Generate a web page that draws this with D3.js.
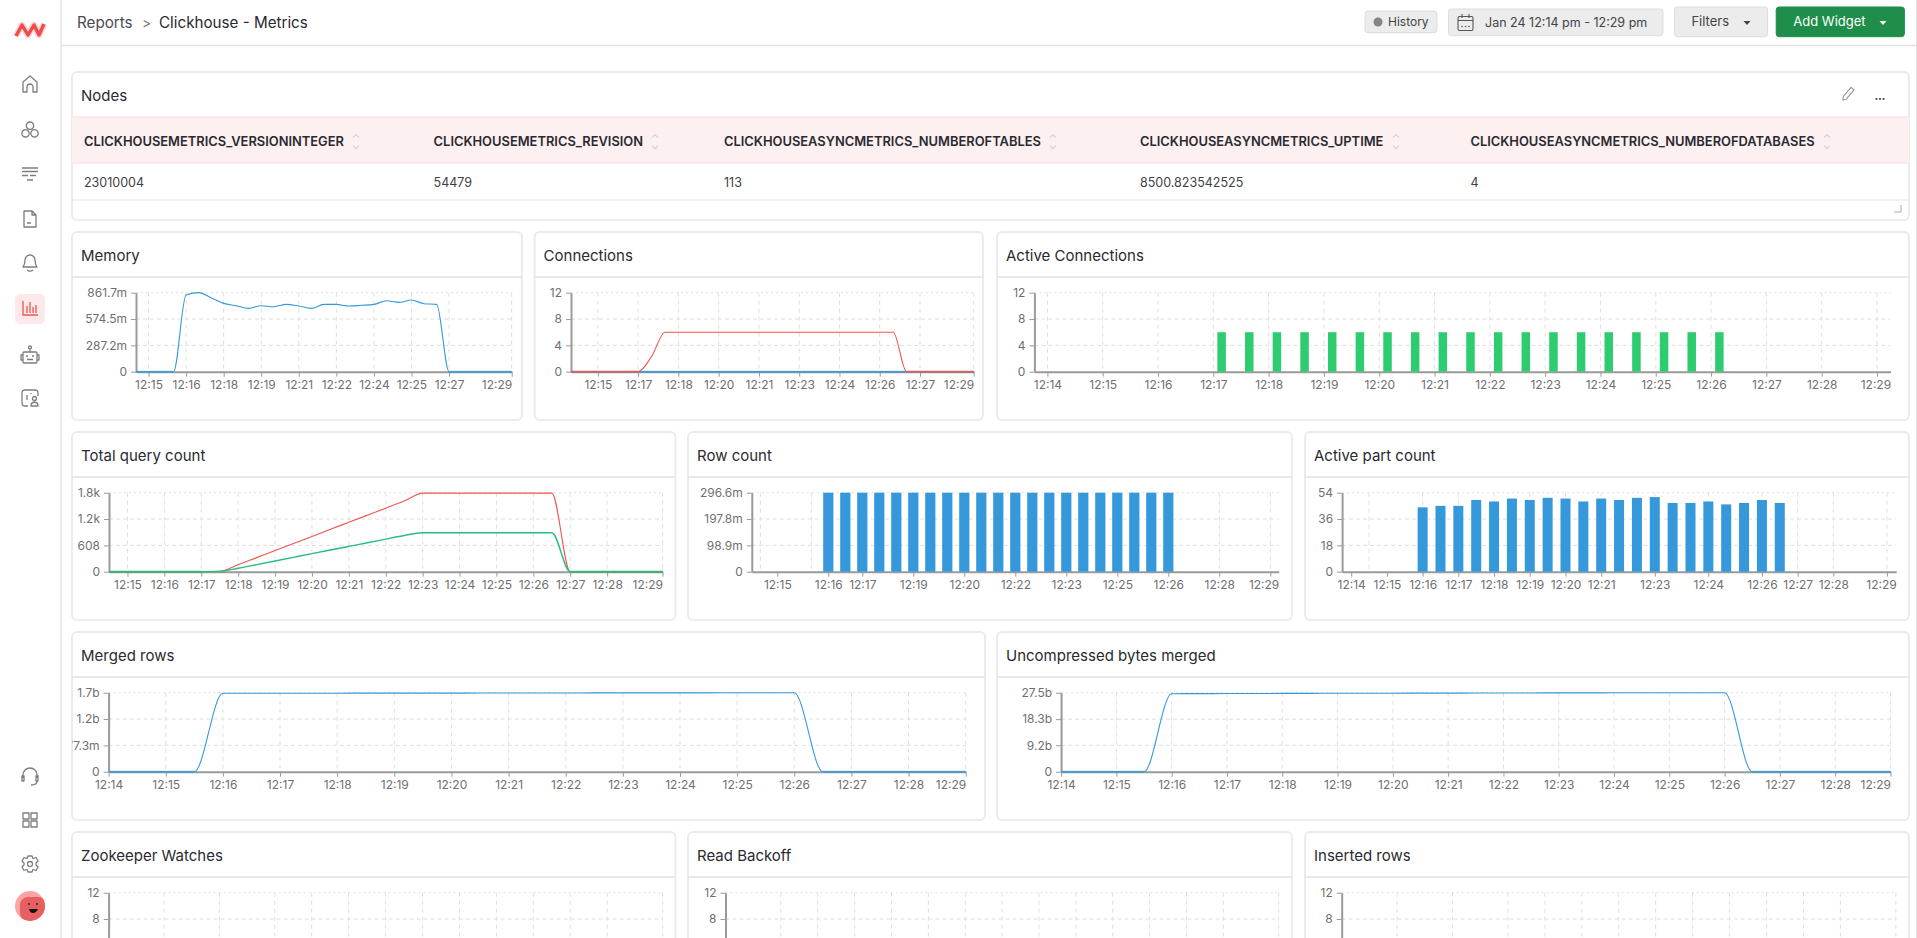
<!DOCTYPE html>
<html>
<head>
<meta charset="utf-8">
<title>Clickhouse - Metrics</title>
<script src="https://cdnjs.cloudflare.com/ajax/libs/d3/7.8.5/d3.min.js"></script>
<style>
  html, body { margin: 0; padding: 0; background: #fff; overflow: hidden; }
  text { font-family: Inter, "Noto Sans", sans-serif; }
</style>
</head>
<body>
<div id="page"></div>
<script>
// Table
const nodeColumns = ["CLICKHOUSEMETRICS_VERSIONINTEGER", "CLICKHOUSEMETRICS_REVISION", "CLICKHOUSEASYNCMETRICS_NUMBEROFTABLES", "CLICKHOUSEASYNCMETRICS_UPTIME", "CLICKHOUSEASYNCMETRICS_NUMBEROFDATABASES"];
const nodeRow = ["23010004", "54479", "113", "8500.823542525", "4"];

// Sample times, minutes past 12:00
const timesFrom14 = [14, 14.5, 15, 15.5, 16, 16.5, 17, 17.5, 18, 18.5, 19, 19.5, 20, 20.5, 21, 21.5, 22, 22.5, 23, 23.5, 24, 24.5, 25, 25.5, 26, 26.5, 27, 27.5, 28, 28.5, 29];
const timesFrom145 = [14.5, 15, 15.5, 16, 16.5, 17, 17.5, 18, 18.5, 19, 19.5, 20, 20.5, 21, 21.5, 22, 22.5, 23, 23.5, 24, 24.5, 25, 25.5, 26, 26.5, 27, 27.5, 28, 28.5, 29, 29.5];
const barTimes = [16, 16.5, 17, 17.5, 18, 18.5, 19, 19.5, 20, 20.5, 21, 21.5, 22, 22.5, 23, 23.5, 24, 24.5, 25, 25.5, 26];
const activeConnTimes = [17.15, 17.65, 18.15, 18.65, 19.15, 19.65, 20.15, 20.65, 21.15, 21.65, 22.15, 22.65, 23.15, 23.65, 24.15, 24.65, 25.15, 25.65, 26.15];

// Series values
const memoryValues = [0, 0, 0, 0, 836, 862, 807, 745, 720, 691, 720, 709, 734, 716, 691, 734, 734, 716, 724, 734, 774, 756, 782, 742, 734, 0, 0, 0, 0, 0, 0];
const connectionsRed = [0, 0, 0, 0, 0, 0, 2.3, 6, 6, 6, 6, 6, 6, 6, 6, 6, 6, 6, 6, 6, 6, 6, 6, 6, 6, 0, 0, 0, 0, 0, 0];
const connectionsBlue = [0, 0, 0, 0, 0, 0, 0, 0, 0, 0, 0, 0, 0, 0, 0, 0, 0, 0, 0, 0, 0, 0, 0, 0, 0, 0, 0, 0, 0, 0, 0];
const activeConnValues = [6, 6, 6, 6, 6, 6, 6, 6, 6, 6, 6, 6, 6, 6, 6, 6, 6, 6, 6];
const queryRed = [0, 0, 0, 0, 0, 0, 10, 162, 325, 488, 651, 814, 978, 1141, 1304, 1467, 1630, 1815, 1815, 1815, 1815, 1815, 1815, 1815, 1815, 0, 0, 0, 0, 0, 0];
const queryGreen = [0, 0, 0, 0, 0, 0, 8, 80, 164, 248, 332, 416, 500, 584, 668, 752, 836, 900, 900, 900, 900, 900, 900, 900, 900, 0, 0, 0, 0, 0, 0];
const rowCountValues = [296.6, 296.6, 296.6, 296.6, 296.6, 296.6, 296.6, 296.6, 296.6, 296.6, 296.6, 296.6, 296.6, 296.6, 296.6, 296.6, 296.6, 296.6, 296.6, 296.6, 296.6];
const activePartValues = [44, 45, 45, 49, 48, 50, 49, 50.5, 50, 48, 50, 49, 50.5, 51, 47, 47, 48, 46, 47, 49, 47];
const mergedValues = [0, 0, 0, 0, 1719, 1720, 1720, 1721, 1721, 1722, 1722, 1723, 1723, 1724, 1725, 1725, 1726, 1727, 1727, 1728, 1729, 1729, 1730, 1730, 1731, 0, 0, 0, 0, 0, 0];
const uncompressedValues = [0, 0, 0, 0, 27.15, 27.17, 27.2, 27.22, 27.25, 27.27, 27.3, 27.31, 27.33, 27.35, 27.36, 27.38, 27.4, 27.42, 27.43, 27.44, 27.46, 27.47, 27.48, 27.49, 27.5, 0, 0, 0, 0, 0, 0];

// Axis ticks
const memoryYTicks = [0, 287.2, 574.5, 861.7];
const memoryYLabels = ["0", "287.2m", "574.5m", "861.7m"];
const countYTicks = [0, 4, 8, 12];
const countYLabels = ["0", "4", "8", "12"];
const visibleCountYTicks = [8, 12];
const visibleCountYLabels = ["8", "12"];
const queryYTicks = [0, 608, 1216, 1824];
const queryYLabels = ["0", "608", "1.2k", "1.8k"];
const rowYTicks = [0, 98.9, 197.8, 296.6];
const rowYLabels = ["0", "98.9m", "197.8m", "296.6m"];
const partYTicks = [0, 18, 36, 54];
const partYLabels = ["0", "18", "36", "54"];
const mergedYTicks = [0, 577.3, 1154.6, 1731.9];
const mergedYLabels = ["0", "577.3m", "1.2b", "1.7b"];
const bytesYTicks = [0, 9.2, 18.3, 27.5];
const bytesYLabels = ["0", "9.2b", "18.3b", "27.5b"];

const memoryXTicks = [15, 16.5, 18, 19.5, 21, 22.5, 24, 25.5, 27, 29.5];
const memoryXLabels = ["12:15", "12:16", "12:18", "12:19", "12:21", "12:22", "12:24", "12:25", "12:27", "12:29"];
const connXTicks = [15, 16.5, 18, 19.5, 21, 22.5, 24, 25.5, 27, 29];
const connXLabels = ["12:15", "12:17", "12:18", "12:20", "12:21", "12:23", "12:24", "12:26", "12:27", "12:29"];
const everyMinute = [14, 15, 16, 17, 18, 19, 20, 21, 22, 23, 24, 25, 26, 27, 28, 29];
const everyMinuteLabels = ["12:14", "12:15", "12:16", "12:17", "12:18", "12:19", "12:20", "12:21", "12:22", "12:23", "12:24", "12:25", "12:26", "12:27", "12:28", "12:29"];
const queryXTicks = [15, 16, 17, 18, 19, 20, 21, 22, 23, 24, 25, 26, 27, 28, 29.5];
const queryXLabels = ["12:15", "12:16", "12:17", "12:18", "12:19", "12:20", "12:21", "12:22", "12:23", "12:24", "12:25", "12:26", "12:27", "12:28", "12:29"];
const rowXTicks = [14.5, 16, 17, 18.5, 20, 21.5, 23, 24.5, 26, 27.5, 29];
const rowXLabels = ["12:15", "12:16", "12:17", "12:19", "12:20", "12:22", "12:23", "12:25", "12:26", "12:28", "12:29"];
const rowXGrid = [14, 15.5, 17, 18.5, 20, 21.5, 23, 24.5, 26, 27.5, 29];
const partXTicks = [14, 15, 16, 17, 18, 19, 20, 21, 22.5, 24, 25.5, 26.5, 27.5, 29];
const partXLabels = ["12:14", "12:15", "12:16", "12:17", "12:18", "12:19", "12:20", "12:21", "12:23", "12:24", "12:26", "12:27", "12:28", "12:29"];
const partXGrid = [14.5, 16, 17, 18, 19, 20, 21, 22.5, 24, 25.5, 26.5, 27.5, 29];
const watchGrid = [15.5, 17, 18.5, 19.5, 20.5, 21.5, 22.5, 23.5, 24.5, 25.5, 26.5, 27.5, 29];
const backoffGrid = [15.5, 16.5, 17.5, 18.5, 19.5, 20.5, 21.5, 22.5, 23.5, 24.5, 25.5, 26.5, 27.5, 29];

const BLUE = "#3498db", RED = "#f0554c", GREEN = "#2ecc71", LINE_GREEN = "#27bd7e";
const AXIS = "#9a9a9a", GRID = "#dedede", INK = "#2a2a30", MUTED = "#6f6f6f", ICON = "#7d7d7d";

const svg = d3.select("#page").append("svg")
    .attr("width", 1917)
    .attr("height", 938)
    .style("display", "block");

function label(parent, x, y, str, size, weight, color, anchor) {
    return parent.append("text")
        .attr("x", x).attr("y", y)
        .attr("font-size", size)
        .attr("font-weight", weight || 400)
        .attr("fill", color || INK)
        .attr("text-anchor", anchor || "start")
        .text(str);
}

let cardId = 0;
function card(x0, x1, top, bottom, title) {
    const id = "card" + (cardId++);
    svg.append("clipPath").attr("id", id).append("rect")
        .attr("x", x0).attr("y", top).attr("width", x1 - x0).attr("height", bottom - top);
    svg.append("rect")
        .attr("x", x0).attr("y", top).attr("width", x1 - x0).attr("height", bottom - top)
        .attr("rx", 5).attr("fill", "#fff").attr("stroke", "#ebebeb").attr("stroke-width", 2);
    const g = svg.append("g").attr("clip-path", "url(#" + id + ")");
    label(g, x0 + 9, top + 29, title, 15, 400);
    return g;
}

// One widget: card + plot. left/right are the plot edges, from/to the visible minutes
function widget(o) {
    const top = o.top, plotTop = top + 60.7, plotBottom = top + 139.7;
    const g = card(o.x0, o.x1, top, top + 188, o.title);
    g.append("line")
        .attr("x1", o.x0).attr("x2", o.x1).attr("y1", top + 45).attr("y2", top + 45)
        .attr("stroke", "#e2e2e2").attr("stroke-width", 1.5);

    const yMax = d3.max(o.yTicks);
    const x = d3.scaleLinear().domain([o.from, o.to]).range([o.left, o.right]);
    const y = d3.scaleLinear().domain([0, yMax]).range([plotBottom, plotTop]);

    // grid
    g.selectAll(null).data(o.yTicks.filter(d => d > 0)).enter().append("line")
        .attr("x1", o.left).attr("x2", o.right)
        .attr("y1", d => y(d)).attr("y2", d => y(d))
        .attr("stroke", GRID)
        .attr("stroke-dasharray", d => d === yMax ? "2 3" : "4 3");
    g.selectAll(null).data(o.grid || o.xTicks).enter().append("line")
        .attr("x1", d => x(d)).attr("x2", d => x(d))
        .attr("y1", plotTop).attr("y2", plotBottom)
        .attr("stroke", GRID)
        .attr("stroke-dasharray", "4 4");

    // axes
    const xAxis = g.append("g")
        .attr("transform", "translate(0," + plotBottom + ")")
        .call(d3.axisBottom(x).tickValues(o.xLabels ? o.xTicks : []).tickSize(5).tickSizeOuter(0).tickPadding(4)
            .tickFormat((d, i) => o.xLabels[i]));
    const yAxis = g.append("g")
        .attr("transform", "translate(" + o.left + ",0)")
        .call(d3.axisLeft(y).tickValues(o.yTicks).tickSize(5).tickSizeOuter(0).tickPadding(4)
            .tickFormat((d, i) => o.yLabels[i]));
    [xAxis, yAxis].forEach(a => {
        a.select(".domain").attr("stroke", AXIS).attr("stroke-width", 2);
        a.selectAll(".tick line").attr("stroke", AXIS);
        a.selectAll(".tick text").attr("fill", MUTED).attr("font-size", 12)
            .attr("font-family", "Inter, 'Noto Sans', sans-serif");
    });
    // keep the last time label inside the plot
    xAxis.selectAll(".tick text").each(function (d) {
        const half = this.getComputedTextLength() / 2;
        if (x(d) + half > o.right) d3.select(this).attr("x", o.right - half - x(d));
    });

    // bars
    if (o.bars) {
        g.selectAll(null).data(o.bars.values).enter().append("rect")
            .attr("x", (d, i) => x(o.bars.times[i]) - o.bars.width / 2)
            .attr("y", d => y(d))
            .attr("width", o.bars.width)
            .attr("height", d => plotBottom - y(d))
            .attr("fill", o.bars.color);
    }

    // lines, zero stretches sit thick on the axis
    (o.lines || []).forEach(s => {
        const pts = s.values.map((v, i) => [s.times[i], v]);
        g.append("path").datum(pts)
            .attr("fill", "none").attr("stroke", s.color).attr("stroke-width", s.width || 1.1)
            .attr("d", d3.line().x(d => x(d[0])).y(d => y(d[1])).curve(d3.curveMonotoneX));
        g.append("path").datum(pts)
            .attr("fill", "none").attr("stroke", s.color).attr("stroke-width", 2).attr("stroke-opacity", 0.55)
            .attr("d", d3.line().defined(d => d[1] === 0).x(d => x(d[0])).y(d => y(d[1])));
    });
}

// ---- charts ----
widget({ title: "Memory", x0: 72, x1: 522, top: 232, left: 136, right: 511.7, from: 14.5, to: 29.5,
    yTicks: memoryYTicks, yLabels: memoryYLabels, xTicks: memoryXTicks, xLabels: memoryXLabels,
    lines: [{ times: timesFrom145, values: memoryValues, color: BLUE }] });
widget({ title: "Connections", x0: 534.6, x1: 983, top: 232, left: 571, right: 973.7, from: 14, to: 29,
    yTicks: countYTicks, yLabels: countYLabels, xTicks: connXTicks, xLabels: connXLabels,
    lines: [{ times: timesFrom14, values: connectionsBlue, color: BLUE },
            { times: timesFrom14, values: connectionsRed, color: RED }] });
widget({ title: "Active Connections", x0: 997, x1: 1909, top: 232, left: 1034.4, right: 1890.6, from: 13.765, to: 29.246,
    yTicks: countYTicks, yLabels: countYLabels, xTicks: everyMinute, xLabels: everyMinuteLabels,
    bars: { times: activeConnTimes, values: activeConnValues, width: 8.5, color: GREEN } });

widget({ title: "Total query count", x0: 72, x1: 675.5, top: 432, left: 109, right: 662.5, from: 14.5, to: 29.5,
    yTicks: queryYTicks, yLabels: queryYLabels, xTicks: queryXTicks, xLabels: queryXLabels,
    lines: [{ times: timesFrom145, values: queryRed, color: RED },
            { times: timesFrom145, values: queryGreen, color: LINE_GREEN, width: 1.4 }] });
widget({ title: "Row count", x0: 688, x1: 1292, top: 432, left: 751.8, right: 1278.8, from: 13.75, to: 29.25,
    yTicks: rowYTicks, yLabels: rowYLabels, xTicks: rowXTicks, xLabels: rowXLabels, grid: rowXGrid,
    bars: { times: barTimes, values: rowCountValues, width: 10.2, color: BLUE } });
widget({ title: "Active part count", x0: 1305, x1: 1909, top: 432, left: 1342.1, right: 1896.2, from: 13.745, to: 29.26,
    yTicks: partYTicks, yLabels: partYLabels, xTicks: partXTicks, xLabels: partXLabels, grid: partXGrid,
    bars: { times: barTimes, values: activePartValues, width: 10, color: BLUE } });

widget({ title: "Merged rows", x0: 72, x1: 985, top: 632, left: 108.6, right: 965.7, from: 14, to: 29,
    yTicks: mergedYTicks, yLabels: mergedYLabels, xTicks: everyMinute, xLabels: everyMinuteLabels,
    lines: [{ times: timesFrom14, values: mergedValues, color: BLUE }] });
widget({ title: "Uncompressed bytes merged", x0: 997, x1: 1909, top: 632, left: 1061.1, right: 1890.5, from: 14, to: 29,
    yTicks: bytesYTicks, yLabels: bytesYLabels, xTicks: everyMinute, xLabels: everyMinuteLabels,
    lines: [{ times: timesFrom14, values: uncompressedValues, color: BLUE }] });

// bottom row runs off the page, only its grid and upper y ticks are readable
widget({ title: "Zookeeper Watches", x0: 72, x1: 675.5, top: 832, left: 108.6, right: 662.6, from: 14, to: 29,
    yTicks: visibleCountYTicks, yLabels: visibleCountYLabels, xTicks: [], grid: watchGrid });
widget({ title: "Read Backoff", x0: 688, x1: 1292, top: 832, left: 725.5, right: 1278.7, from: 14, to: 29,
    yTicks: visibleCountYTicks, yLabels: visibleCountYLabels, xTicks: [], grid: backoffGrid });
widget({ title: "Inserted rows", x0: 1305, x1: 1909, top: 832, left: 1341.7, right: 1895.8, from: 14, to: 29,
    yTicks: visibleCountYTicks, yLabels: visibleCountYLabels, xTicks: [], grid: watchGrid });

// ---- Nodes table ----
const nodes = card(72, 1909, 72, 220, "Nodes");
const colX = [84, 433.6, 724, 1140, 1470.4];
const sortX = [356, 655, 1052.8, 1396, 1827];
nodes.append("rect").attr("x", 72).attr("y", 117).attr("width", 1837).attr("height", 46)
    .attr("fill", "#fdf0f0");
[[117, "#fbdcdc"], [163, "#fbdcdc"], [200, "#e4e4e4"]].forEach(r => {
    nodes.append("line").attr("x1", 72).attr("x2", 1909).attr("y1", r[0]).attr("y2", r[0])
        .attr("stroke", r[1]).attr("stroke-width", 1.2);
});
nodes.selectAll(null).data(nodeColumns).enter().append("text")
    .attr("x", (d, i) => colX[i]).attr("y", 146)
    .attr("font-size", 12.9).attr("font-weight", 600).attr("fill", INK)
    .text(d => d);
nodes.selectAll(null).data(nodeRow).enter().append("text")
    .attr("x", (d, i) => colX[i]).attr("y", 187)
    .attr("font-size", 12.5).attr("fill", "#3f3f46")
    .text(d => d);
nodes.selectAll(null).data(sortX).enter().append("path")
    .attr("transform", d => "translate(" + d + ",141.7)")
    .attr("d", "M-3-4 0-7 3-4M-3 4 0 7 3 4")
    .attr("fill", "none").attr("stroke", "#cfcfcf").attr("stroke-width", 1.1);
// edit, menu, resize handle
nodes.append("path").attr("transform", "translate(1848,94) rotate(40)")
    .attr("d", "M-2-7H2V5L0 8-2 5Z").attr("fill", "none").attr("stroke", "#8a8a8a").attr("stroke-width", 1);
nodes.selectAll(null).data([-3.5, 0, 3.5]).enter().append("circle")
    .attr("cx", d => 1880 + d).attr("cy", 99).attr("r", 1.1).attr("fill", "#444");
nodes.append("path").attr("d", "M1901 205V212H1894").attr("fill", "none").attr("stroke", "#aaa");

// ---- header ----
svg.append("line").attr("x1", 61).attr("x2", 1917).attr("y1", 45.5).attr("y2", 45.5)
    .attr("stroke", "#e0e0e0").attr("stroke-width", 1.5);
label(svg, 77, 28, "Reports", 15.2, 400, "#4a4a52");
label(svg, 142, 28, ">", 14, 400, "#7a7a7a");
label(svg, 159, 28, "Clickhouse - Metrics", 15.2, 400, INK);

function button(x0, x1, y0, y1, fill, stroke) {
    svg.append("rect").attr("x", x0).attr("y", y0).attr("width", x1 - x0).attr("height", y1 - y0)
        .attr("rx", 3).attr("fill", fill).attr("stroke", stroke);
}
button(1365, 1437, 11, 32.7, "#ececec", "#dcdcdc");
svg.append("circle").attr("cx", 1378).attr("cy", 22).attr("r", 4.5).attr("fill", "#858585");
label(svg, 1388, 26.2, "History", 12, 400, "#444");
button(1448.5, 1663, 9, 35.7, "#ececec", "#dedede");
svg.append("g").attr("transform", "translate(1465.5,23)").call(g => {
    g.append("rect").attr("x", -7.5).attr("y", -6.5).attr("width", 15).attr("height", 14).attr("rx", 1.5)
        .attr("fill", "none").attr("stroke", "#555").attr("stroke-width", 1.1);
    g.append("path").attr("d", "M-7.5-2.5H7.5M-3.5-9V-5M3.5-9V-5").attr("stroke", "#555").attr("stroke-width", 1.1);
    g.selectAll(null).data([-3.5, 0, 3.5]).enter().append("circle")
        .attr("cx", d => d).attr("cy", 3.5).attr("r", 0.8).attr("fill", "#555");
});
label(svg, 1485, 27, "Jan 24 12:14 pm - 12:29 pm", 12.5, 400, "#444");
button(1674.5, 1767.5, 7, 36.7, "#ececec", "#dedede");
label(svg, 1691.4, 26, "Filters", 13, 400, "#444");
svg.append("path").attr("transform", "translate(1747,23)").attr("d", "M-3.5-2H3.5L0 2Z").attr("fill", "#444");
button(1776.2, 1904.4, 7, 36.7, "#1e8e4a", "#1e8e4a");
label(svg, 1793.3, 26, "Add Widget", 13, 400, "#fff");
svg.append("path").attr("transform", "translate(1883,23)").attr("d", "M-3.5-2H3.5L0 2Z").attr("fill", "#fff");
// page scrollbar edge
svg.append("line").attr("x1", 1916.5).attr("x2", 1916.5).attr("y1", 0).attr("y2", 938).attr("stroke", "#e4e4e4");

// ---- sidebar ----
svg.append("line").attr("x1", 61).attr("x2", 61).attr("y1", 0).attr("y2", 938)
    .attr("stroke", "#e0e0e0").attr("stroke-width", 1.2);
svg.append("path").attr("d", "M16 36 22 25 28 35 34 25 39 35 44 24")
    .attr("fill", "none").attr("stroke", "#fbd5d5").attr("stroke-width", 6.5).attr("stroke-linejoin", "round");
svg.append("path").attr("d", "M16 36 22 25 28 35 34 25 39 35 44 24")
    .attr("fill", "none").attr("stroke", "#ef4b4b").attr("stroke-width", 3.4).attr("stroke-linejoin", "round");
svg.append("rect").attr("x", 15).attr("y", 294).attr("width", 30).attr("height", 30).attr("rx", 5).attr("fill", "#fde9e9");

const icons = [
    { y: 84, d: "M-7 8V-2L0-8 7-2V8H3V3A3 3 0 0 0-3 3V8Z" },
    { y: 130, d: "M3.7-4.3a3.700 3.700 0 1 0-7.400 0a3.700 3.700 0 1 0 7.400 0ZM-0.8 3.300a3.700 3.700 0 1 0-7.400 0a3.700 3.700 0 1 0 7.400 0ZM8.200 3.300a3.700 3.700 0 1 0-7.400 0a3.700 3.700 0 1 0 7.400 0Z" },
    { y: 174, d: "M-8-6H8M-8-2.500H8M-8 1.500H-2M0 1.500H6M-3 6H3" },
    { y: 219, d: "M-6-8H2L6-4V8H-6ZM2-8V-4H6M-3 4H1" },
    { y: 262, d: "M-7 5C-5 2-5 0-5-2A5 5 0 0 1 5-2C5 0 5 2 7 5ZM-3 8C-1 9.500 1 9.500 3 8" },
    { y: 308, d: "M-7-7V7H8M-3 5V-2M0 5V-6M3 5V-1M6 5V-3", color: "#ef5350" },
    { y: 355, d: "M-6-3H6Q7-3 7-2V7Q7 8 6 8H-6Q-7 8-7 7V-2Q-7-3-6-3ZM0-3V-6M1.500-7.500a1.500 1.500 0 1 0-3 0a1.500 1.500 0 1 0 3 0ZM-7 0H-9V5H-7M7 0H9V5H7M-4 1H-2M2 1H4M-3 4.500H3" },
    { y: 398, d: "M-2 8H-5Q-8 8-8 5V-5Q-8-8-5-8H5Q8-8 8-5V-2M-3-3V2M1-5V-4M1 8C1 3 8 3 8 8ZM6.500 0.500a2 2 0 1 0-4 0a2 2 0 1 0 4 0Z" },
    { y: 776, d: "M-7 2V-1A7 7 0 0 1 7-1V2M-8 0H-6V5H-8ZM6 0H8V5H6ZM7 5C7 8 4 9 1 9" },
    { y: 820, d: "M-7-7H-1V-1H-7ZM1-7H7V-1H1ZM-7 1H-1V7H-7ZM1 1H7V7H1Z" },
    { y: 864, d: "M-2-8H2L3-5.500 6-6.500 8-3 6-1V1L8 3 6 6.500 3 5.500 2 8H-2L-3 5.500-6 6.500-8 3-6 1V-1L-8-3-6-6.500-3-5.500ZM2.500 0a2.500 2.500 0 1 0-5 0a2.500 2.500 0 1 0 5 0Z" }
];
svg.selectAll(null).data(icons).enter().append("path")
    .attr("transform", d => "translate(30," + d.y + ")")
    .attr("d", d => d.d)
    .attr("fill", "none")
    .attr("stroke", d => d.color || ICON)
    .attr("stroke-width", 1.3)
    .attr("stroke-linejoin", "round");

// avatar
svg.append("clipPath").attr("id", "avatar").append("circle").attr("cx", 30).attr("cy", 906).attr("r", 15);
svg.append("circle").attr("cx", 30).attr("cy", 906).attr("r", 15).attr("fill", "#fba5a5");
svg.append("rect").attr("x", 20).attr("y", 897).attr("width", 26).attr("height", 24).attr("rx", 8)
    .attr("clip-path", "url(#avatar)").attr("fill", "#e85f62");
svg.selectAll(null).data([29, 37]).enter().append("circle")
    .attr("cx", d => d).attr("cy", 904).attr("r", 0.9).attr("fill", "#222");
svg.append("path").attr("d", "M29 909Q33.500 909 38 909Q36 913 33 913Q30 913 29 909Z").attr("fill", "#111");
</script>
</body>
</html>
